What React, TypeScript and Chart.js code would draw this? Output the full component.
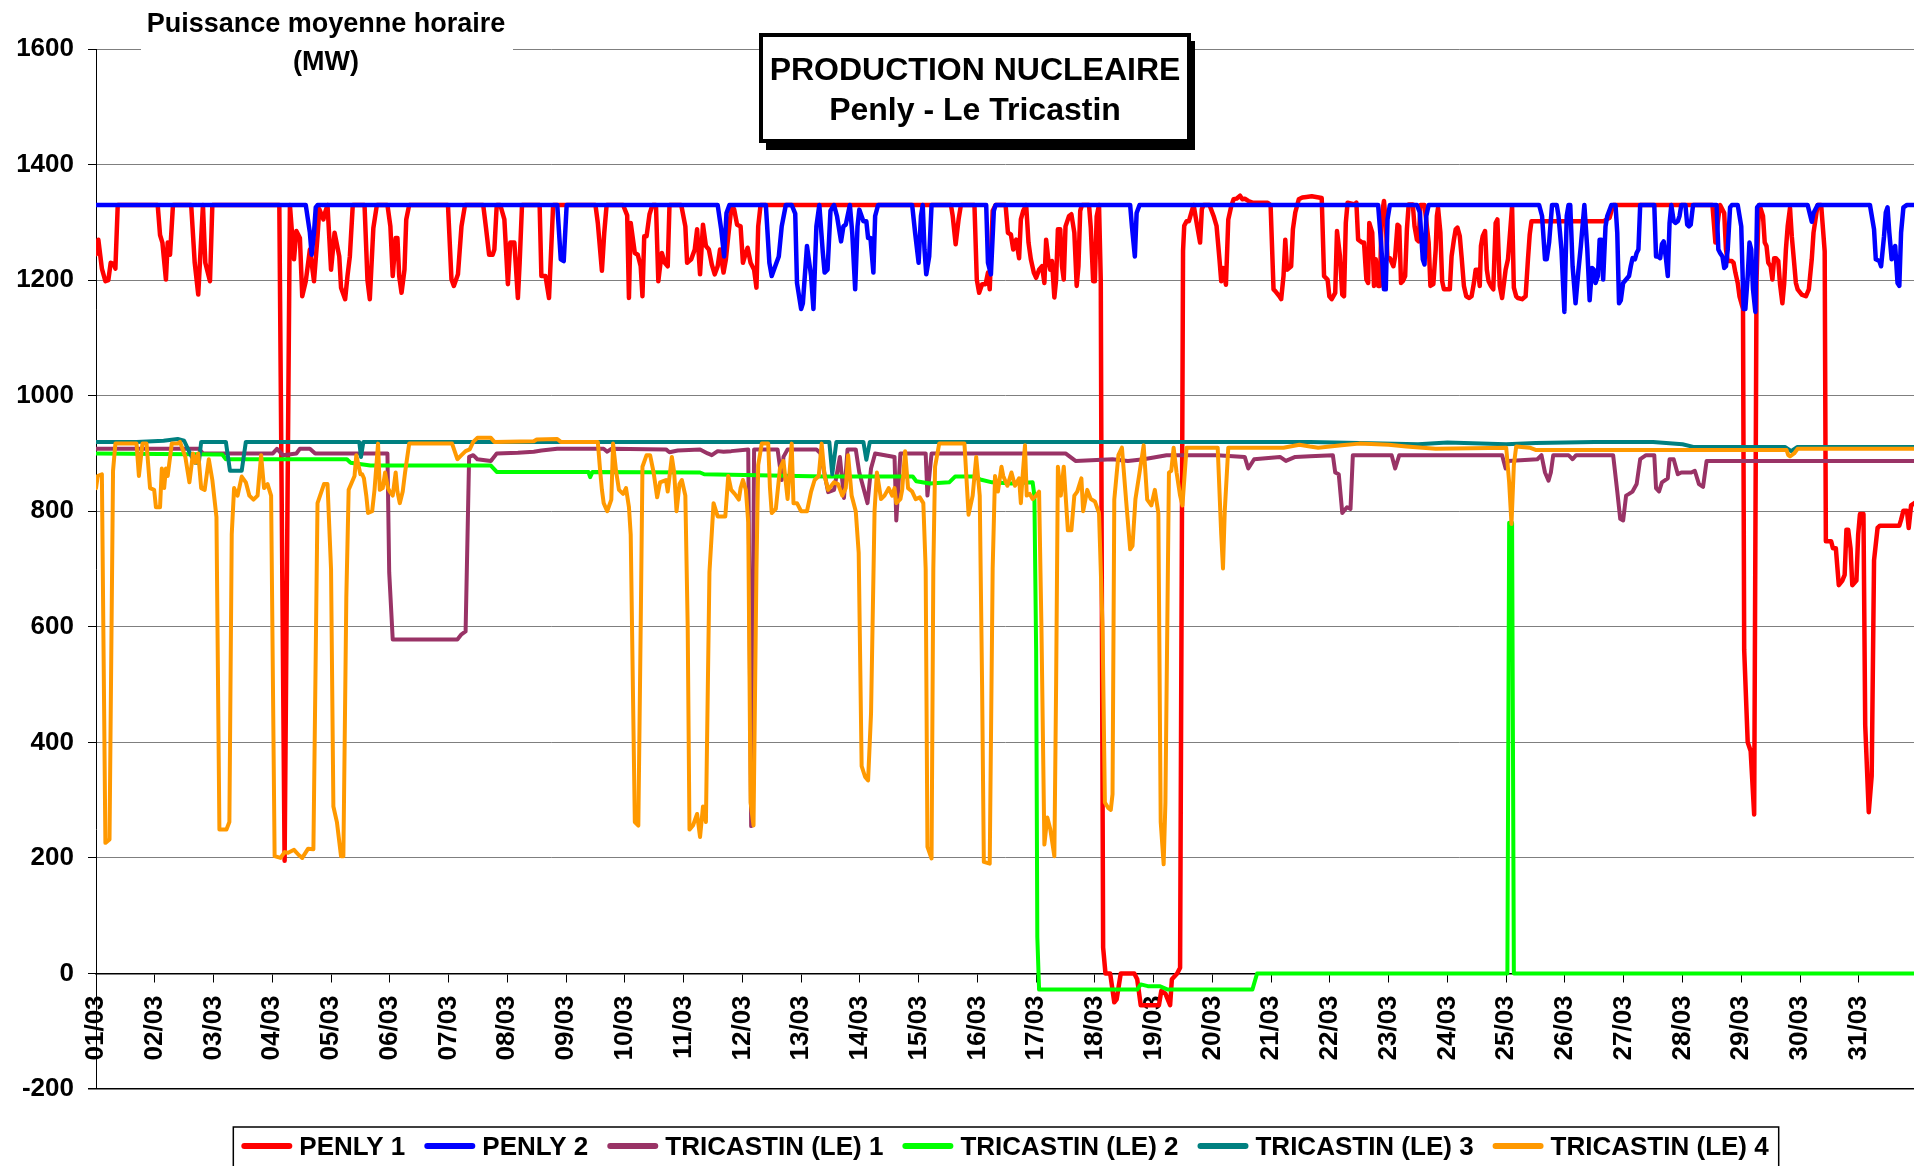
import React, { useEffect, useRef } from 'react';
import { Chart, registerables } from 'chart.js';

Chart.register(...registerables);

const FONT = '"Liberation Sans", Arial, Helvetica, sans-serif';

const dayLabels = ['01/03','02/03','03/03','04/03','05/03','06/03','07/03','08/03','09/03','10/03','11/03','12/03','13/03','14/03','15/03','16/03','17/03','18/03','19/03','20/03','21/03','22/03','23/03','24/03','25/03','26/03','27/03','28/03','29/03','30/03','31/03'];
const X_MAX = 30.94;
const Y_MIN = -200;
const Y_MAX = 1600;
const Y_STEP = 200;

const titleLines = ['PRODUCTION NUCLEAIRE', 'Penly - Le Tricastin'];
const yTitleLines = ['Puissance moyenne horaire', '(MW)'];

const seriesNames = ['PENLY 1', 'PENLY 2', 'TRICASTIN (LE) 1', 'TRICASTIN (LE) 2', 'TRICASTIN (LE) 3', 'TRICASTIN (LE) 4'];
const seriesColors = ['#FF0000', '#0000FF', '#993366', '#00FF00', '#008080', '#FF9900'];

// [day since 01/03 00:00, MW]
const penly1: [number, number][] = [
[0,1245],[0.04,1270],[0.1,1220],[0.16,1198],[0.21,1200],[0.25,1230],[0.3,1228],[0.33,1220],[0.37,1330],
[1.05,1330],[1.09,1278],[1.13,1265],[1.19,1201],[1.22,1265],[1.26,1244],[1.31,1330],
[1.62,1330],[1.68,1230],[1.74,1175],[1.82,1330],[1.86,1230],[1.94,1198],[1.98,1330],
[3.12,1330],[3.21,195],[3.3,1330],[3.37,1236],[3.41,1285],[3.47,1273],[3.51,1172],[3.57,1198],[3.64,1253],[3.71,1198],[3.77,1276],[3.8,1323],[3.87,1305],[3.9,1317],[3.94,1330],
[4.0,1218],[4.06,1282],[4.14,1241],[4.17,1187],[4.24,1167],[4.28,1207],[4.32,1241],[4.37,1330],
[4.57,1330],[4.62,1200],[4.66,1167],[4.72,1290],[4.78,1330],
[4.96,1330],[5.01,1293],[5.05,1207],[5.1,1273],[5.13,1273],[5.16,1207],[5.2,1178],[5.25,1218],[5.28,1305],[5.33,1330],
[5.99,1330],[6.05,1201],[6.09,1190],[6.16,1210],[6.22,1293],[6.28,1330],
[6.59,1330],[6.64,1288],[6.69,1244],[6.75,1244],[6.78,1253],[6.82,1330],
[6.88,1330],[6.95,1305],[7.01,1193],[7.05,1265],[7.12,1265],[7.18,1169],[7.21,1230],[7.25,1330],
[7.55,1330],[7.58,1207],[7.65,1207],[7.71,1169],[7.78,1330],
[8.5,1330],[8.54,1299],[8.61,1216],[8.65,1282],[8.69,1330],
[8.97,1330],[9.04,1312],[9.07,1169],[9.1,1299],[9.17,1247],[9.22,1244],[9.27,1224],[9.3,1172],[9.33,1276],[9.37,1276],[9.42,1314],[9.47,1330],
[9.53,1330],[9.57,1198],[9.6,1224],[9.63,1247],[9.68,1230],[9.73,1224],[9.76,1330],
[9.96,1330],[10.03,1293],[10.06,1230],[10.13,1236],[10.19,1253],[10.23,1288],[10.28,1210],
[10.33,1296],[10.38,1259],[10.43,1253],[10.48,1227],[10.53,1210],[10.58,1224],[10.62,1253],[10.68,1213],[10.72,1236],[10.76,1276],[10.81,1323],[10.86,1323],[10.91,1296],[10.97,1293],[11.01,1230],[11.06,1247],[11.09,1256],[11.14,1230],[11.2,1218],[11.24,1187],[11.27,1293],[11.31,1330],
[14.55,1330],[14.58,1311],[14.63,1262],[14.68,1305],[14.72,1330],
[14.95,1330],[14.99,1201],[15.03,1178],[15.08,1193],[15.14,1193],[15.18,1213],[15.21,1184],[15.26,1320],[15.31,1330],
[15.48,1330],[15.52,1282],[15.57,1279],[15.61,1253],[15.66,1270],[15.71,1238],[15.74,1305],[15.78,1320],[15.83,1330],[15.87,1265],[15.91,1236],[15.96,1213],[16.0,1204],[16.05,1218],[16.1,1224],[16.14,1195],[16.17,1270],[16.21,1233],[16.24,1218],[16.27,1233],[16.31,1170],[16.34,1201],[16.37,1288],[16.41,1288],[16.44,1224],[16.47,1201],[16.5,1293],[16.56,1311],[16.6,1314],[16.65,1282],[16.69,1190],[16.72,1224],[16.75,1320],[16.78,1330],
[16.9,1330],[16.93,1291],[16.97,1198],[17.0,1198],[17.03,1310],[17.07,1330],[17.1,1200],[17.12,600],[17.14,45],[17.18,0],[17.26,0],[17.33,-50],[17.37,-45],[17.44,0],[17.67,0],[17.72,-10],[17.78,-55],[18.09,-55],[18.13,-30],[18.2,-35],[18.28,-55],[18.31,-10],[18.4,0],[18.45,10],[18.5,1250],[18.52,1294],[18.56,1302],[18.6,1302],[18.65,1320],[18.68,1330],[18.74,1294],[18.79,1265],[18.82,1323],[18.85,1330],
[18.95,1330],[19.02,1311],[19.07,1294],[19.12,1236],[19.15,1198],[19.18,1221],[19.23,1192],[19.27,1305],[19.32,1328],[19.36,1340],[19.41,1341],[19.47,1346],[19.51,1340],[19.55,1341],[19.61,1337],[19.68,1334],[19.94,1334],[19.99,1330],[20.04,1184],[20.07,1181],[20.14,1172],[20.17,1167],[20.21,1207],[20.24,1270],[20.27,1218],[20.34,1224],[20.37,1288],[20.41,1317],[20.47,1340],[20.53,1343],[20.6,1344],[20.69,1345],[20.86,1342],
[20.9,1207],[20.96,1201],[20.99,1172],[21.03,1167],[21.09,1178],[21.12,1285],[21.17,1242],[21.21,1175],[21.24,1172],[21.27,1299],[21.3,1334],[21.42,1331],[21.45,1334],[21.48,1270],[21.55,1265],[21.58,1265],[21.62,1201],[21.65,1195],[21.67,1299],[21.72,1282],[21.75,1190],[21.78,1236],[21.82,1190],[21.85,1190],[21.88,1311],[21.92,1337],[21.95,1299],[21.98,1238],[22.02,1238],[22.08,1224],[22.11,1241],[22.15,1296],[22.18,1293],[22.21,1195],[22.24,1198],[22.28,1207],[22.31,1288],[22.34,1331],[22.41,1331],[22.44,1293],[22.48,1270],[22.51,1267],[22.54,1330],[22.61,1330],[22.68,1265],[22.71,1190],[22.76,1193],[22.8,1253],[22.82,1311],[22.84,1325],[22.88,1282],[22.91,1198],[22.94,1184],[23.04,1184],[23.07,1241],[23.11,1270],[23.14,1288],[23.17,1291],[23.21,1276],[23.24,1241],[23.28,1190],[23.32,1172],[23.37,1169],[23.41,1172],[23.45,1195],[23.48,1218],[23.52,1218],[23.55,1190],[23.57,1259],[23.6,1276],[23.64,1285],[23.67,1218],[23.7,1198],[23.74,1190],[23.78,1184],[23.82,1299],[23.85,1305],[23.89,1190],[23.93,1169],[23.99,1218],[24.03,1236],[24.07,1288],[24.1,1328],[24.13,1187],[24.17,1172],[24.2,1169],[24.27,1167],[24.33,1172],[24.37,1236],[24.4,1279],[24.43,1302],[25.66,1302],[25.76,1308],[25.82,1330],
[27.51,1330],[27.56,1265],[27.61,1308],[27.64,1330],[27.71,1316],[27.74,1253],[27.77,1233],[27.84,1233],[27.87,1230],[27.9,1213],[27.94,1195],[27.97,1172],[28.03,1150],[28.05,560],[28.11,400],[28.16,385],[28.22,275],[28.26,1200],[28.29,1299],[28.31,1330],[28.37,1311],[28.4,1265],[28.43,1259],[28.46,1230],[28.5,1224],[28.53,1201],[28.56,1238],[28.59,1238],[28.63,1233],[28.66,1193],[28.7,1160],[28.73,1193],[28.76,1253],[28.79,1293],[28.83,1325],[28.86,1276],[28.9,1230],[28.93,1195],[28.96,1184],[29.03,1175],[29.1,1172],[29.15,1184],[29.2,1236],[29.23,1282],[29.3,1330],[29.36,1330],[29.42,1250],[29.44,748],[29.53,748],[29.56,736],[29.61,736],[29.66,672],[29.72,680],[29.76,690],[29.79,768],[29.82,768],[29.86,736],[29.89,672],[29.96,680],[29.99,760],[30.02,795],[30.08,795],[30.11,429],[30.17,279],[30.22,342],[30.26,715],[30.32,771],[30.36,775],[30.69,775],[30.72,785],[30.76,801],[30.82,801],[30.85,771],[30.89,810],[30.96,815]
];

const penly2: [number, number][] = [
[0,1330],[3.57,1330],[3.64,1282],[3.67,1244],[3.71,1282],[3.74,1326],[3.77,1330],
[7.85,1330],[7.91,1236],[7.96,1233],[8.01,1330],
[10.58,1330],[10.64,1288],[10.69,1241],[10.73,1316],[10.78,1330],
[11.4,1330],[11.46,1230],[11.5,1207],[11.57,1227],[11.62,1241],[11.67,1293],[11.74,1330],[11.84,1330],[11.9,1315],[11.93,1195],[12.0,1150],[12.03,1160],[12.1,1259],[12.17,1207],[12.21,1150],[12.26,1293],[12.31,1330],[12.37,1247],[12.4,1213],[12.45,1218],[12.5,1320],[12.56,1330],[12.61,1311],[12.68,1267],[12.72,1293],[12.76,1296],[12.83,1330],[12.87,1282],[12.92,1184],[12.96,1293],[12.99,1322],[13.06,1302],[13.11,1302],[13.14,1273],[13.18,1273],[13.23,1213],[13.26,1311],[13.31,1330],
[13.89,1330],[13.94,1282],[14.0,1230],[14.04,1311],[14.07,1330],[14.1,1253],[14.13,1210],[14.18,1241],[14.22,1330],
[15.15,1330],[15.18,1230],[15.23,1210],[15.28,1320],[15.31,1330],
[17.6,1330],[17.63,1293],[17.68,1241],[17.71,1316],[17.76,1330],
[21.82,1330],[21.87,1265],[21.92,1184],[21.95,1184],[21.98,1305],[22.02,1330],
[22.48,1330],[22.53,1317],[22.58,1236],[22.61,1227],[22.64,1311],[22.68,1330],
[24.56,1330],[24.61,1311],[24.66,1236],[24.69,1236],[24.73,1265],[24.78,1330],[24.86,1330],[24.89,1311],[24.94,1253],[24.99,1145],[25.03,1311],[25.06,1330],[25.09,1330],[25.13,1224],[25.18,1160],[25.23,1218],[25.27,1259],[25.33,1330],[25.38,1253],[25.42,1165],[25.46,1221],[25.49,1218],[25.52,1195],[25.56,1207],[25.59,1270],[25.62,1270],[25.65,1201],[25.69,1293],[25.72,1311],[25.79,1330],[25.86,1330],[25.89,1282],[25.92,1160],[25.95,1165],[25.99,1195],[26.04,1201],[26.09,1207],[26.12,1224],[26.15,1238],[26.19,1236],[26.22,1247],[26.25,1253],[26.28,1330],[26.52,1330],[26.55,1241],[26.58,1241],[26.62,1238],[26.65,1262],[26.68,1267],[26.72,1236],[26.75,1207],[26.78,1299],[26.81,1330],[26.85,1302],[26.88,1299],[26.92,1302],[26.95,1311],[26.98,1330],[27.05,1330],[27.08,1296],[27.11,1293],[27.14,1296],[27.18,1330],
[27.58,1330],[27.61,1253],[27.64,1247],[27.68,1241],[27.71,1221],[27.74,1224],[27.77,1253],[27.81,1326],[27.84,1330],[27.94,1330],[28.0,1293],[28.04,1150],[28.07,1150],[28.11,1207],[28.14,1265],[28.17,1253],[28.2,1184],[28.24,1145],[28.27,1326],[28.3,1330],
[29.13,1330],[29.2,1301],[29.23,1316],[29.3,1330],
[30.19,1330],[30.26,1288],[30.29,1236],[30.35,1233],[30.38,1224],[30.43,1276],[30.46,1317],[30.49,1326],[30.52,1282],[30.56,1236],[30.59,1253],[30.62,1259],[30.66,1195],[30.69,1190],[30.72,1282],[30.76,1326],[30.82,1330],[30.96,1330]
];

const tricastin1: [number, number][] = [
[0,908],[1.75,908],[1.82,900],[3.01,900],[3.08,908],[3.18,897],[3.41,900],[3.47,908],[3.64,908],[3.73,900],[4.96,900],[4.99,694],[5.05,578],[6.15,578],[6.22,587],[6.29,592],[6.35,894],[6.42,897],[6.49,890],[6.72,887],[6.82,900],[7.18,901],[7.45,903],[7.58,905],[7.85,908],[8.64,908],[8.7,903],[8.77,908],[9.7,907],[9.76,902],[9.9,905],[10.28,907],[10.41,900],[10.48,897],[10.58,904],[10.68,903],[10.81,904],[11.1,907],[11.15,255],[11.2,907],[11.6,907],[11.67,854],[11.7,894],[11.77,907],[12.26,907],[12.33,900],[12.46,833],[12.56,837],[12.66,894],[12.73,823],[12.79,907],[12.93,907],[12.99,867],[13.13,814],[13.19,874],[13.26,900],[13.59,894],[13.62,784],[13.69,900],[14.12,900],[14.15,827],[14.22,900],[16.5,900],[16.67,887],[17.3,890],[17.56,887],[17.83,890],[18.22,897],[19.08,897],[19.55,894],[19.61,874],[19.71,890],[20.15,894],[20.25,887],[20.41,894],[20.66,895],[21.05,897],[21.09,867],[21.15,864],[21.21,797],[21.29,807],[21.35,804],[21.39,897],[22.05,897],[22.11,874],[22.18,897],[23.93,897],[23.99,874],[24.03,887],[24.53,890],[24.6,897],[24.66,867],[24.72,853],[24.76,867],[24.8,897],[25.06,897],[25.13,890],[25.19,897],[25.82,897],[25.89,834],[25.94,787],[25.99,784],[26.04,827],[26.09,830],[26.15,834],[26.22,847],[26.28,890],[26.38,897],[26.52,897],[26.55,840],[26.6,834],[26.65,850],[26.75,857],[26.78,890],[26.85,890],[26.92,864],[26.98,867],[27.15,867],[27.21,870],[27.28,847],[27.35,842],[27.41,887],[30.96,887]
];

const tricastin2: [number, number][] = [
[0,900],[2.15,898],[2.21,890],[4.27,890],[4.33,884],[4.67,879],[6.72,879],[6.82,868],[8.38,868],[8.41,859],[8.45,868],[10.28,867],[10.35,864],[12.4,860],[13.9,860],[13.96,852],[14.19,848],[14.52,850],[14.62,860],[14.92,860],[15.05,855],[15.25,850],[15.58,848],[15.94,850],[15.97,827],[16.0,560],[16.02,63],[16.05,-28],[17.72,-28],[17.78,-19],[17.9,-22],[18.1,-22],[18.24,-28],[19.68,-28],[19.76,0],[24.02,0],[24.05,780],[24.1,780],[24.13,0],[30.96,0]
];

const tricastin3: [number, number][] = [
[0,920],[0.69,920],[1.15,922],[1.39,925],[1.5,922],[1.6,900],[1.68,884],[1.75,884],[1.79,920],[2.21,920],[2.28,870],[2.48,870],[2.55,920],[4.48,920],[4.51,894],[4.55,920],[12.48,920],[12.53,864],[12.6,920],[13.06,920],[13.11,889],[13.17,920],[20.66,920],[21.5,918],[22.5,916],[23.0,919],[24.0,916],[24.5,918],[25.5,920],[26.5,920],[27.0,916],[27.2,911],[28.75,911],[28.85,904],[28.95,911],[30.96,911]
];

const tricastin4: [number, number][] = [
[0,840],[0.03,861],[0.1,864],[0.16,226],[0.23,232],[0.29,870],[0.33,917],[0.69,917],[0.73,861],[0.79,917],[0.86,917],[0.92,840],[0.99,837],[1.02,807],[1.09,807],[1.12,874],[1.16,840],[1.19,874],[1.22,861],[1.29,917],[1.39,917],[1.43,920],[1.52,894],[1.59,850],[1.65,900],[1.69,884],[1.74,900],[1.79,840],[1.85,837],[1.92,890],[1.98,854],[2.05,790],[2.1,249],[2.22,249],[2.27,262],[2.31,760],[2.35,840],[2.41,827],[2.48,860],[2.55,850],[2.61,827],[2.68,820],[2.75,827],[2.81,897],[2.86,840],[2.92,847],[2.98,827],[3.04,203],[3.14,200],[3.21,210],[3.27,209],[3.37,214],[3.45,205],[3.51,200],[3.61,216],[3.7,215],[3.77,814],[3.88,847],[3.94,847],[4.0,700],[4.04,289],[4.1,262],[4.17,203],[4.21,203],[4.26,650],[4.3,837],[4.4,861],[4.43,897],[4.5,864],[4.53,864],[4.56,857],[4.6,827],[4.63,797],[4.7,800],[4.74,837],[4.8,917],[4.83,837],[4.88,840],[4.92,867],[4.97,840],[5.0,834],[5.05,827],[5.1,867],[5.13,834],[5.17,814],[5.22,834],[5.26,867],[5.33,917],[6.06,917],[6.15,890],[6.22,897],[6.29,904],[6.36,907],[6.42,920],[6.49,927],[6.72,927],[6.78,920],[7.45,921],[7.5,924],[7.85,925],[7.91,920],[8.54,920],[8.58,870],[8.61,837],[8.64,814],[8.7,800],[8.77,820],[8.8,917],[8.85,870],[8.9,837],[8.97,830],[9.02,840],[9.07,807],[9.1,760],[9.17,262],[9.23,256],[9.27,600],[9.3,877],[9.37,897],[9.43,897],[9.49,867],[9.55,824],[9.6,850],[9.7,854],[9.73,834],[9.8,894],[9.84,867],[9.88,800],[9.93,847],[9.97,854],[10.03,827],[10.07,600],[10.1,249],[10.16,256],[10.23,276],[10.28,236],[10.33,289],[10.38,262],[10.44,694],[10.51,814],[10.58,791],[10.71,791],[10.76,861],[10.81,837],[10.87,830],[10.94,820],[10.97,840],[11.01,854],[11.06,837],[11.1,781],[11.14,296],[11.19,256],[11.24,700],[11.27,880],[11.33,917],[11.44,917],[11.47,840],[11.5,797],[11.57,804],[11.64,874],[11.7,887],[11.77,821],[11.84,917],[11.87,814],[11.93,814],[12.0,800],[12.1,800],[12.17,834],[12.23,854],[12.3,861],[12.35,917],[12.4,861],[12.46,837],[12.56,850],[12.63,847],[12.7,827],[12.76,840],[12.8,897],[12.86,827],[12.93,800],[12.98,728],[13.03,359],[13.09,340],[13.14,334],[13.19,450],[13.25,800],[13.29,867],[13.36,821],[13.42,827],[13.49,840],[13.55,827],[13.59,840],[13.62,814],[13.69,821],[13.72,837],[13.77,904],[13.82,840],[13.89,834],[13.95,821],[14.02,824],[14.08,814],[14.12,700],[14.15,219],[14.22,199],[14.25,700],[14.28,877],[14.35,917],[14.78,917],[14.85,794],[14.92,827],[14.98,894],[15.04,827],[15.08,500],[15.11,193],[15.21,190],[15.26,700],[15.3,861],[15.35,834],[15.41,877],[15.44,861],[15.51,844],[15.58,867],[15.64,844],[15.71,857],[15.74,814],[15.77,861],[15.81,914],[15.84,827],[15.89,830],[15.94,821],[16.0,827],[16.05,834],[16.09,600],[16.14,223],[16.19,270],[16.24,250],[16.31,203],[16.34,500],[16.37,877],[16.42,827],[16.47,877],[16.54,767],[16.6,767],[16.65,827],[16.7,834],[16.77,857],[16.8,800],[16.87,837],[16.93,821],[17.0,817],[17.07,797],[17.13,600],[17.17,296],[17.23,286],[17.27,283],[17.3,310],[17.33,820],[17.4,897],[17.46,910],[17.53,820],[17.6,734],[17.64,740],[17.69,821],[17.76,867],[17.83,914],[17.89,820],[17.96,810],[18.02,837],[18.08,797],[18.12,262],[18.17,189],[18.2,296],[18.26,867],[18.3,870],[18.34,910],[18.39,867],[18.45,827],[18.49,810],[18.56,910],[19.09,910],[19.15,760],[19.18,701],[19.21,800],[19.27,910],[20.21,910],[20.48,915],[20.66,912],[20.8,910],[21.2,914],[21.5,917],[22.0,915],[22.3,912],[22.8,908],[24.0,910],[24.05,850],[24.09,778],[24.13,880],[24.17,912],[24.4,910],[24.5,906],[28.77,906],[28.8,897],[28.83,895],[28.9,900],[28.96,908],[30.96,908]
];

const allSeries = [penly1, penly2, tricastin1, tricastin2, tricastin3, tricastin4];

const overlayPlugin = {
  id: 'overlay',
  afterDraw(chart: any) {
    const ctx: CanvasRenderingContext2D = chart.ctx;
    const area = chart.chartArea;
    ctx.save();

    // y-axis title with white background (interrupts the top grid line)
    ctx.fillStyle = '#ffffff';
    ctx.fillRect(141, 0, 372, 84);
    ctx.fillStyle = '#000000';
    ctx.font = `bold 27px ${FONT}`;
    ctx.textAlign = 'center';
    ctx.textBaseline = 'alphabetic';
    ctx.fillText(yTitleLines[0], 326, 32);
    ctx.fillText(yTitleLines[1], 326, 70);

    // title box with shadow
    const bx = 761, by = 35, bw = 428, bh = 106;
    ctx.fillStyle = '#000000';
    ctx.fillRect(bx + 5, by + 6, bw + 1, bh + 3);
    ctx.fillStyle = '#ffffff';
    ctx.fillRect(bx, by, bw, bh);
    ctx.lineWidth = 4;
    ctx.strokeStyle = '#000000';
    ctx.strokeRect(bx, by, bw, bh);
    ctx.fillStyle = '#000000';
    ctx.font = `bold 32px ${FONT}`;
    ctx.textAlign = 'center';
    ctx.fillText(titleLines[0], bx + bw / 2, 80);
    ctx.fillText(titleLines[1], bx + bw / 2, 120);

    // legend
    ctx.font = `bold 26px ${FONT}`;
    const lineLen = 51, gapLT = 7, gapItem = 19;
    const widths = seriesNames.map((n) => ctx.measureText(n).width);
    const total = widths.reduce((a, w) => a + lineLen + gapLT + w, 0) + gapItem * (seriesNames.length - 1);
    const cx = (area.left + area.right) / 2;
    let x = cx - total / 2;
    const boxTop = 1127;
    ctx.lineWidth = 1.5;
    ctx.strokeStyle = '#000000';
    ctx.fillStyle = '#ffffff';
    ctx.fillRect(x - 8, boxTop, total + 18, 60);
    ctx.strokeRect(x - 8, boxTop, total + 18, 60);
    ctx.textAlign = 'left';
    ctx.textBaseline = 'alphabetic';
    seriesNames.forEach((n, i) => {
      ctx.strokeStyle = seriesColors[i];
      ctx.lineWidth = 6;
      ctx.lineCap = 'round';
      ctx.beginPath();
      ctx.moveTo(x + 3, 1146);
      ctx.lineTo(x + lineLen - 3, 1146);
      ctx.stroke();
      ctx.fillStyle = '#000000';
      ctx.fillText(n, x + lineLen + gapLT, 1155);
      x += lineLen + gapLT + widths[i] + gapItem;
    });
    ctx.restore();
  },
};

export default function App() {
  const ref = useRef<HTMLCanvasElement>(null);
  useEffect(() => {
    const canvas = ref.current;
    if (!canvas) return;
    Chart.defaults.font.family = FONT;
    const chart = new Chart(canvas, {
      type: 'line',
      data: {
        datasets: allSeries.map((s, i) => ({
          label: seriesNames[i],
          data: s.map(([x, y]) => ({ x, y })),
          borderColor: seriesColors[i],
          backgroundColor: seriesColors[i],
          borderWidth: i < 2 ? 4.5 : 4,
          pointRadius: 0,
          pointHoverRadius: 0,
          tension: 0,
          fill: false,
          borderJoinStyle: 'round',
          borderCapStyle: 'round',
          order: allSeries.length - i,
        })),
      },
      options: {
        responsive: false,
        animation: false,
        events: [],
        layout: { padding: { top: 49, bottom: 77, left: 0, right: 0 } },
        plugins: {
          legend: { display: false },
          title: { display: false },
          tooltip: { enabled: false },
        },
        scales: {
          x: {
            type: 'linear',
            min: 0,
            max: X_MAX,
            position: { y: 0 },
            afterBuildTicks: (scale: any) => {
              scale.ticks = dayLabels.map((_, i) => ({ value: i }));
            },
            ticks: {
              autoSkip: false,
              minRotation: 90,
              maxRotation: 90,
              padding: 14,
              color: '#000000',
              font: { family: FONT, size: 26, weight: 'bold' },
              callback: (v: any) => dayLabels[Math.round(Number(v))] ?? '',
            },
            grid: {
              display: true,
              drawOnChartArea: false,
              drawTicks: true,
              tickLength: 8,
              tickColor: '#000000',
              tickWidth: 1,
            },
            border: { display: true, color: '#000000', width: 1.5 },
          },
          y: {
            type: 'linear',
            min: Y_MIN,
            max: Y_MAX,
            afterFit: (scale: any) => {
              scale.width = 96;
            },
            ticks: {
              stepSize: Y_STEP,
              padding: 14,
              color: '#000000',
              font: { family: FONT, size: 26, weight: 'bold' },
              callback: (v: any) => String(v),
            },
            grid: {
              color: (c: any) => (c.tick && (c.tick.value === Y_MIN || c.tick.value === 0) ? '#000000' : '#7f7f7f'),
              lineWidth: (c: any) => (c.tick && c.tick.value === Y_MIN ? 1.5 : 1),
              tickLength: 8,
              tickColor: '#000000',
            },
            border: { display: true, color: '#000000', width: 1 },
          },
        },
      } as any,
      plugins: [overlayPlugin],
    });
    return () => chart.destroy();
  }, []);
  return (
    <div style={{ position: 'fixed', left: 0, top: 0, width: 1914, height: 1166, background: '#ffffff' }}>
      <canvas ref={ref} width={1914} height={1166} style={{ display: 'block' }} />
    </div>
  );
}
